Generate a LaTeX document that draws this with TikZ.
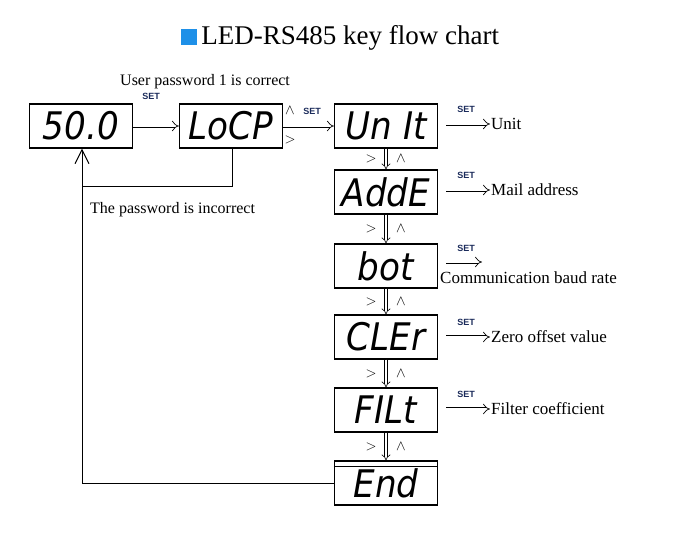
\documentclass[tikz,border=0pt]{standalone}
\usepackage{fontspec}
\setmainfont{Liberation Serif}
\newfontfamily\segfont{DejaVu Sans Condensed}
\newfontfamily\setfont{Liberation Sans}
\usetikzlibrary{arrows.meta}
\definecolor{setc}{HTML}{1A2A5A}
\definecolor{sq}{HTML}{1E90E8}
\begin{document}
\begin{tikzpicture}[x=1pt,y=-1pt,
  disp/.style={draw,line width=1.2pt,minimum width=103pt,minimum height=44pt,inner sep=0pt,font=\segfont\itshape\fontsize{38}{38}\selectfont},
  harrow/.style={double,double distance=3pt,line width=0.7pt,-Implies},
  setl/.style={font=\setfont\bfseries\fontsize{9}{9}\selectfont,text=setc,inner sep=0pt},
  lbl/.style={font=\fontsize{17}{19}\selectfont,inner sep=0pt,anchor=west},
  sym/.style={font=\fontsize{15}{15}\selectfont,inner sep=0pt},
  line/.style={line width=0.7pt}]
\useasboundingbox (0,0) rectangle (682,534);
\node[inner sep=0pt,font=\fontsize{27}{29}\selectfont] (title) at (340,38) {\textcolor{sq}{\rule{16pt}{16pt}}\,LED-RS485 key flow chart};
\node[lbl,font=\fontsize{16}{18}\selectfont] (upc) at (120,82) {User password 1 is correct};
\node[disp] (d500) at (81,126) {50.0};
\node[disp] (loc) at (231,126) {LoCP};
\node[disp] (unit) at (386,126) {Un It};
\node[disp] (adde) at (386,192) {AddE};
\node[disp] (bot) at (386,266) {bot};
\node[disp] (cler) at (386,337) {CLEr};
\node[disp] (filt) at (386,410) {FILt};
\node[disp] (endn) at (386,483) {End};
\draw[line width=0.8pt] ([yshift=-6pt]endn.north west) -- ([yshift=-6pt]endn.north east);
\node[setl] (s1) at (151,96) {SET};
\draw[harrow] (d500.east) -- (loc.west);
\node[sym] (up1) at (290,111) {$\wedge$};
\node[sym] (gt1) at (290,140) {$>$};
\node[setl] (s2) at (312,111) {SET};
\draw[harrow] (loc.east) -- (unit.west);
\coordinate (c1) at (232,186);
\coordinate (c2) at (82,186);
\coordinate (c3) at (82,483);
\draw[line] (loc.south -| c1) -- (c1) -- (c2);
\draw[line,-{Straight Barb[length=14pt,width=14pt,line width=1pt]}] (endn.west) -- (c3) -- (d500.south -| c2);
\node[lbl,font=\fontsize{16}{18}\selectfont] (pwi) at (90,210) {The password is incorrect};
\foreach \a/\b in {unit/adde,adde/bot,bot/cler,cler/filt,filt/endn}{
  \draw[double,double distance=2.5pt,line width=0.6pt,-Implies] (\a.south) -- (\b.north);
  \path (\a.south) -- (\b.north) node[pos=0.5,sym,xshift=-15pt] {$>$} node[pos=0.5,sym,xshift=15pt] {$\wedge$};
}
\foreach \n/\y/\t in {unit/124/Unit,adde/190/Mail address,cler/337/Zero offset value,filt/409/Filter coefficient}{
  \coordinate (e\n) at (490,\y);
  \node[setl] at (466,\y-15) {SET};
  \draw[harrow] (\n.east |- e\n) ++(8,0) -- (e\n);
  \node[lbl,xshift=1pt] at (e\n) {\t};
}
\coordinate (ebot) at (482,262);
\node[setl] at (466,248) {SET};
\draw[harrow] (bot.east |- ebot) ++(8,0) -- (ebot);
\node[lbl] (cbr) at (440,278) {Communication baud rate};
\end{tikzpicture}
\end{document}
